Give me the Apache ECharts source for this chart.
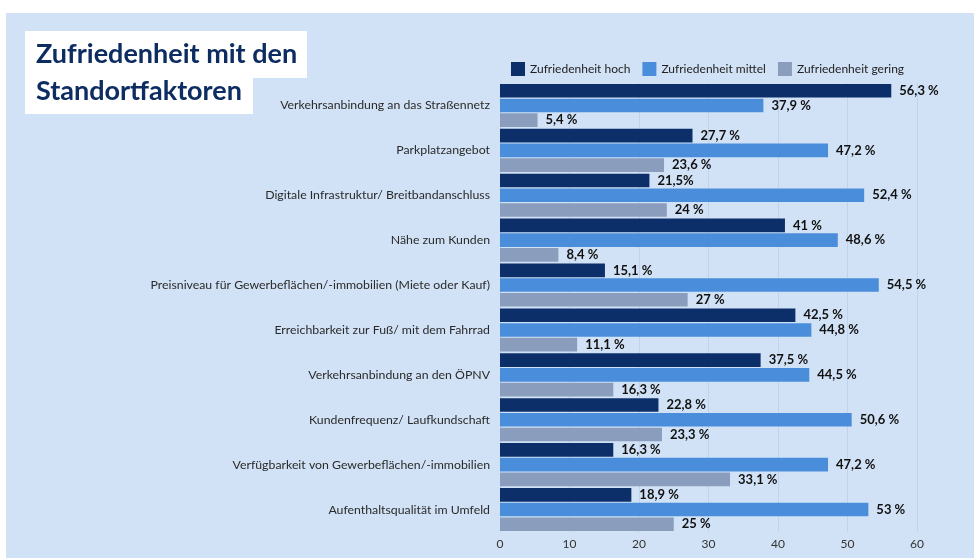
<!DOCTYPE html>
<html>
<head>
<meta charset="utf-8">
<script src="https://cdn.jsdelivr.net/npm/echarts@6/dist/echarts.min.js"></script>
<style>
  html, body { margin: 0; padding: 0; background: #fff; }
  #chart { width: 974px; height: 558px; }
</style>
</head>
<body>
<div id="chart"></div>
<script>
// Kategorien (von oben nach unten)
var categories = [
  'Verkehrsanbindung an das Straßennetz',
  'Parkplatzangebot',
  'Digitale Infrastruktur/ Breitbandanschluss',
  'Nähe zum Kunden',
  'Preisniveau für Gewerbeflächen/-immobilien (Miete oder Kauf)',
  'Erreichbarkeit zur Fuß/ mit dem Fahrrad',
  'Verkehrsanbindung an den ÖPNV',
  'Kundenfrequenz/ Laufkundschaft',
  'Verfügbarkeit von Gewerbeflächen/-immobilien',
  'Aufenthaltsqualität im Umfeld'
];
var seriesNames = ['Zufriedenheit hoch', 'Zufriedenheit mittel', 'Zufriedenheit gering'];
var hoch = [56.3, 27.7, 21.5, 41, 15.1, 42.5, 37.5, 22.8, 16.3, 18.9];
var mittel = [37.9, 47.2, 52.4, 48.6, 54.5, 44.8, 44.5, 50.6, 47.2, 53];
var gering = [5.4, 23.6, 24, 8.4, 27, 11.1, 16.3, 23.3, 33.1, 25];
var xTicks = [0, 10, 20, 30, 40, 50, 60];

var colors = ['#0c2f6a', '#4a8edb', '#8a9dbd'];
var font = 'Lato';

var chart = echarts.init(document.getElementById('chart'));

function fmt(p) {
  var s = String(p.value).replace('.', ',');
  // im Original ohne Leerzeichen
  if (p.seriesIndex === 0 && p.value === 21.5) return s + '%';
  return s + ' %';
}

function bar(name, data, i) {
  return {
    name: name,
    type: 'bar',
    data: data,
    barGap: '8%',
    barCategoryGap: '4%',
    itemStyle: { color: colors[i] },
    label: {
      show: true,
      position: 'right',
      distance: 8,
      formatter: fmt,
      fontFamily: font,
      fontWeight: 'bold',
      fontSize: 13,
      color: '#111'
    }
  };
}

var option = {
  backgroundColor: '#fff',
  animation: false,
  textStyle: { fontFamily: font },
  graphic: [
    { type: 'rect', shape: { x: 6, y: 13, width: 968, height: 545 }, style: { fill: '#d1e2f6' }, z: -10 },
    { type: 'rect', shape: { x: 25, y: 31, width: 282, height: 47 }, style: { fill: '#fff' }, z: -5 },
    { type: 'rect', shape: { x: 25, y: 77, width: 228, height: 37 }, style: { fill: '#fff' }, z: -5 },
    {
      type: 'text', left: 36, top: 41, z: 10,
      style: { text: 'Zufriedenheit mit den', font: 'bold 27px ' + font, fill: '#0d2d62' }
    },
    {
      type: 'text', left: 36, top: 78, z: 10,
      style: { text: 'Standortfaktoren', font: 'bold 27px ' + font, fill: '#0d2d62' }
    }
  ],
  legend: {
    left: 506,
    top: 57,
    itemWidth: 14,
    itemHeight: 14,
    itemGap: 12,
    icon: 'rect',
    textStyle: { fontFamily: font, fontSize: 12, color: '#222' },
    data: seriesNames
  },
  grid: { left: 500, right: 57, top: 83, bottom: 26, containLabel: false },
  xAxis: {
    type: 'value',
    min: xTicks[0],
    max: xTicks[xTicks.length - 1],
    interval: 10,
    axisLine: { show: false },
    axisTick: { show: false },
    axisLabel: { color: '#333', fontSize: 12, fontFamily: font, margin: 6 },
    splitLine: { lineStyle: { color: '#bfd3ec', width: 1 } }
  },
  yAxis: {
    type: 'category',
    data: categories,
    inverse: true,
    axisLine: { show: false },
    axisTick: { show: false },
    axisLabel: { color: '#2a2a2a', fontSize: 12.3, fontFamily: font, margin: 10 }
  },
  series: [
    bar(seriesNames[0], hoch, 0),
    bar(seriesNames[1], mittel, 1),
    bar(seriesNames[2], gering, 2)
  ]
};

chart.setOption(option);
</script>
</body>
</html>
